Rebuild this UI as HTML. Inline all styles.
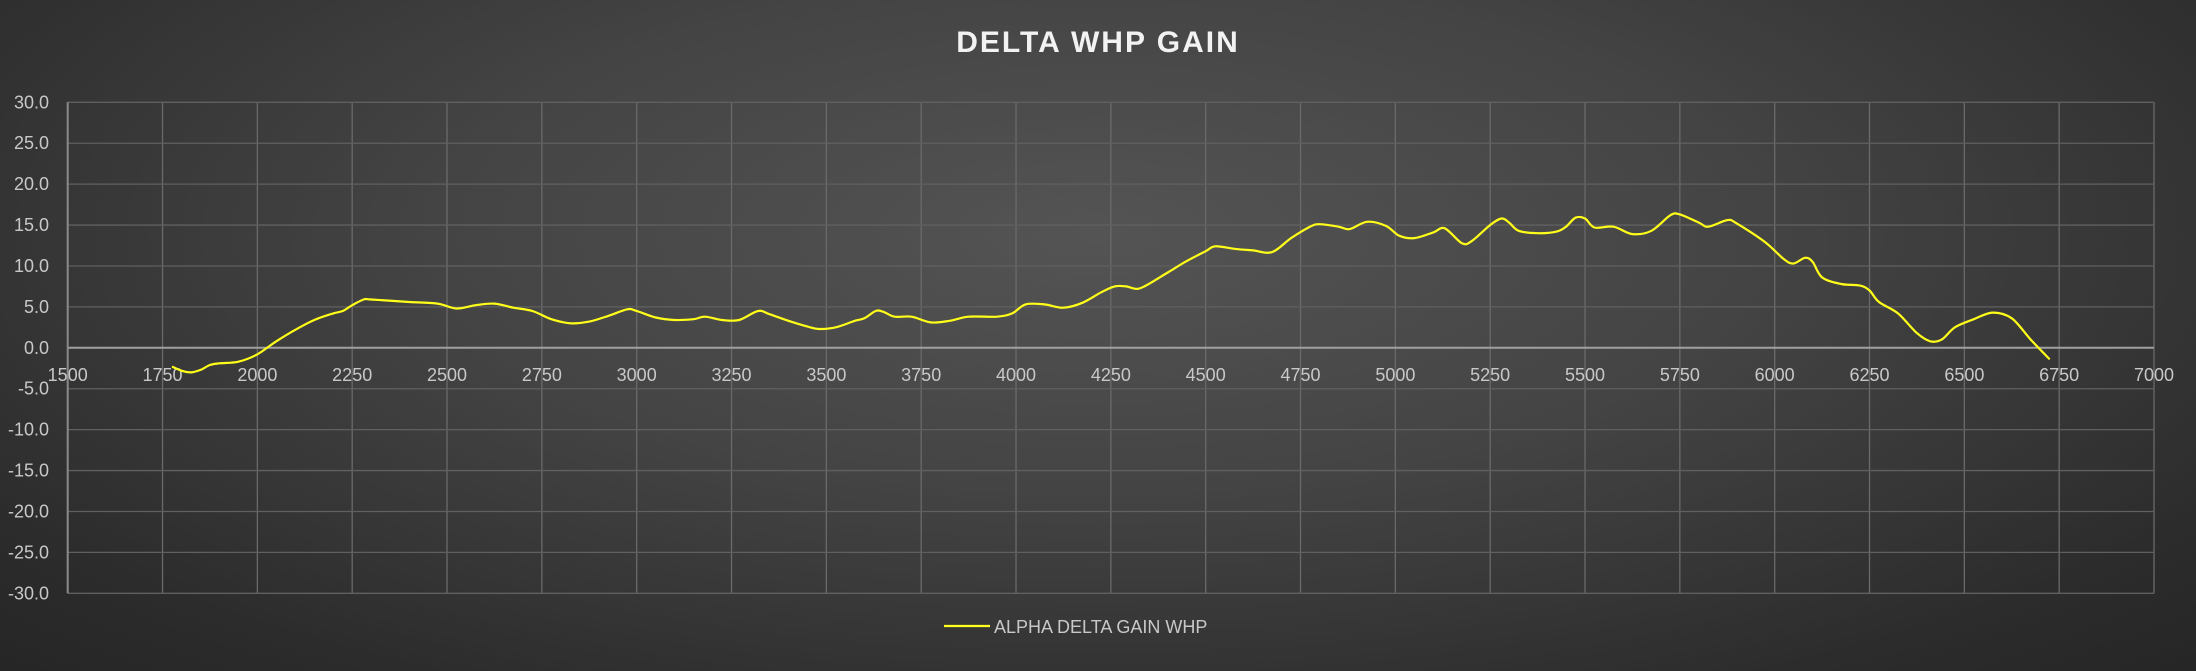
<!DOCTYPE html>
<html><head><meta charset="utf-8"><style>
html,body{margin:0;padding:0;}
body{width:2196px;height:671px;overflow:hidden;background:radial-gradient(ellipse 75% 95% at 50% 35%,#545454 0%,#444 40%,#2c2c2c 80%,#242424 100%);}
svg{position:absolute;left:0;top:0;}
text{font-family:"Liberation Sans",sans-serif;}
</style></head><body>
<svg id="s" width="2196" height="671" xmlns="http://www.w3.org/2000/svg">
<text x="1098" y="52" text-anchor="middle" font-size="30" font-weight="bold" fill="#f2f2f2" letter-spacing="2">DELTA WHP GAIN</text>
<g id="grid"></g>
<path id="line" fill="none" stroke="#ffff1a" stroke-width="2.2" stroke-linejoin="round"/>
<line x1="944" y1="626" x2="990" y2="626" stroke="#ffff1a" stroke-width="2.2"/>
<text x="994" y="633" font-size="18" fill="#c8c8c8">ALPHA DELTA GAIN WHP</text>
</svg>
<script>
var L=67.7,R=2154,T=102.3,B=593.3;
function X(v){return L+(v-1500)/5500*(R-L);}
function Y(v){return T+(30-v)/60*(B-T);}
var g='',ns='';
for(var i=0;i<=22;i++){var x=X(1500+i*250);g+='<line x1="'+x+'" y1="'+T+'" x2="'+x+'" y2="'+B+'" stroke="#6a6a6a" stroke-width="1.3"/>';
g+='<text x="'+x+'" y="381" text-anchor="middle" font-size="18" fill="#c8c8c8">'+(1500+i*250)+'</text>';}
for(var j=0;j<=12;j++){var v=30-j*5,y=Y(v);g+='<line x1="'+L+'" y1="'+y+'" x2="'+R+'" y2="'+y+'" stroke="'+(v==0?'#a0a0a0':'#606060')+'" stroke-width="'+(v==0?2:1.3)+'"/>';
g+='<text x="49" y="'+(y+6)+'" text-anchor="end" font-size="18" fill="#c8c8c8">'+v.toFixed(1)+'</text>';}
g+='<line x1="'+L+'" y1="'+T+'" x2="'+L+'" y2="'+B+'" stroke="#8a8a8a" stroke-width="2"/>';
document.getElementById('grid').innerHTML=g;
var d=[[1775,-2.3],[1800,-2.8],[1825,-3.0],[1850,-2.7],[1875,-2.1],[1900,-1.9],[1950,-1.7],[2000,-0.8],[2050,0.8],[2100,2.2],[2150,3.4],[2200,4.2],[2225,4.5],[2250,5.2],[2280,5.9],[2300,5.9],[2400,5.6],[2475,5.4],[2525,4.8],[2575,5.2],[2625,5.4],[2675,4.9],[2725,4.5],[2775,3.5],[2825,3.0],[2875,3.2],[2925,3.9],[2975,4.7],[3000,4.5],[3050,3.7],[3100,3.4],[3150,3.5],[3180,3.8],[3225,3.4],[3270,3.4],[3320,4.5],[3350,4.1],[3400,3.3],[3450,2.6],[3480,2.3],[3525,2.5],[3575,3.3],[3600,3.6],[3630,4.5],[3650,4.4],[3680,3.8],[3725,3.8],[3775,3.1],[3825,3.3],[3875,3.8],[3950,3.8],[3990,4.2],[4025,5.3],[4075,5.3],[4125,4.9],[4175,5.5],[4225,6.8],[4260,7.5],[4290,7.5],[4320,7.2],[4350,7.8],[4400,9.2],[4450,10.6],[4500,11.8],[4525,12.4],[4575,12.1],[4625,11.9],[4675,11.7],[4725,13.4],[4775,14.8],[4800,15.1],[4850,14.8],[4880,14.5],[4925,15.4],[4975,14.9],[5010,13.7],[5050,13.4],[5100,14.1],[5130,14.6],[5175,12.8],[5200,13.0],[5250,15.0],[5280,15.8],[5300,15.3],[5325,14.3],[5375,14.0],[5425,14.2],[5450,14.8],[5475,15.9],[5500,15.8],[5525,14.7],[5575,14.8],[5625,13.9],[5675,14.3],[5725,16.2],[5750,16.3],[5800,15.3],[5825,14.8],[5875,15.6],[5900,15.2],[5975,12.9],[6025,10.8],[6050,10.3],[6080,11.0],[6100,10.5],[6125,8.6],[6175,7.8],[6225,7.6],[6250,7.0],[6275,5.6],[6325,4.2],[6375,1.8],[6410,0.8],[6440,1.0],[6475,2.5],[6525,3.5],[6575,4.3],[6625,3.6],[6675,1.0],[6725,-1.4]];
var p=d.map(function(a){return [X(a[0]),Y(a[1])];});
var s='M'+p[0][0].toFixed(1)+','+p[0][1].toFixed(1);
for(var k=0;k<p.length-1;k++){var p0=p[k>0?k-1:k],p1=p[k],p2=p[k+1],p3=p[k+2<p.length?k+2:k+1];
var c1=[p1[0]+(p2[0]-p0[0])/6,p1[1]+(p2[1]-p0[1])/6],c2=[p2[0]-(p3[0]-p1[0])/6,p2[1]-(p3[1]-p1[1])/6];
s+='C'+c1[0].toFixed(1)+','+c1[1].toFixed(1)+' '+c2[0].toFixed(1)+','+c2[1].toFixed(1)+' '+p2[0].toFixed(1)+','+p2[1].toFixed(1);}
document.getElementById('line').setAttribute('d',s);
</script>
</body></html>
